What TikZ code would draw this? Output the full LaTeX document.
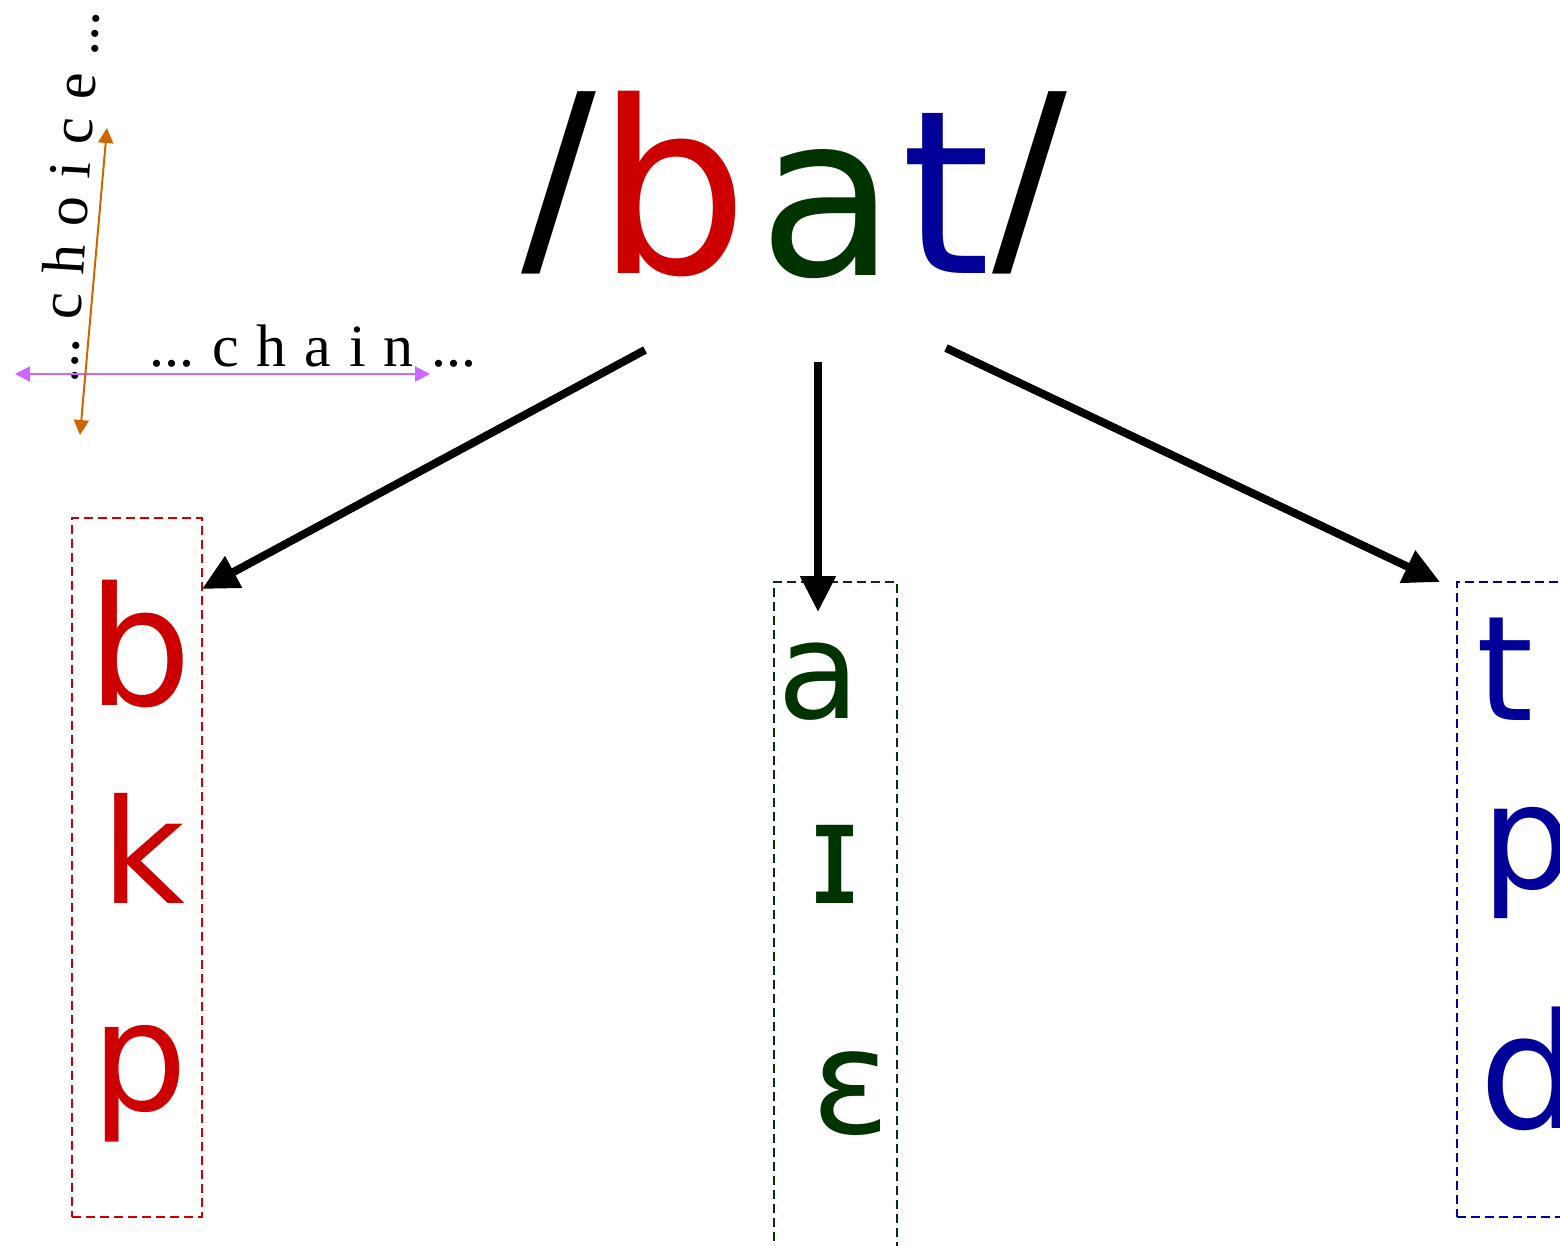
\documentclass[tikz,border=0pt]{standalone}
\usepackage{fontspec}
\setmainfont{Liberation Serif}
\newfontfamily\glyphfont{DejaVu Sans}
\usetikzlibrary{arrows.meta}
\definecolor{cred}{HTML}{CC0000}
\definecolor{cgreen}{HTML}{003300}
\definecolor{cblue}{HTML}{000099}
\definecolor{cpurple}{HTML}{CC66FF}
\definecolor{corange}{HTML}{CC6600}
\newcommand{\gsize}[1]{\glyphfont\fontsize{#1}{#1}\selectfont}
\newcommand{\lsp}{\kern18pt}
\begin{document}
\begin{tikzpicture}[x=1pt,y=-1pt,
  glyph/.style={inner sep=0pt, outer sep=0pt, anchor=base},
  bigarrow/.style={line width=8pt, -{Triangle[length=36pt,width=34pt]}},
  thinarrow/.style={line width=2pt, {Triangle[length=15pt,width=15pt]}-{Triangle[length=15pt,width=15pt]}},
  optbox/.style={draw, line width=1.6pt, dash pattern=on 9pt off 5pt, inner sep=0pt, outer sep=0pt},
  label/.style={inner sep=0pt, outer sep=0pt, anchor=base west, font=\fontsize{60}{60}\selectfont}
]
\useasboundingbox (0,0) rectangle (1560,1245);
\clip (0,0) rectangle (1560,1245);

% title
\node[glyph] (sl1) at (559,253) {\gsize{222}/};
\node[glyph, text=cred] (tb) at (672.5,273) {\gsize{240}b};
\node[glyph, text=cgreen] (ta) at (827.5,275) {\gsize{225}a};
\node[glyph, text=cblue] (tt) at (946.5,273) {\gsize{228}t};
\node[glyph] (sl2) at (1030,253) {\gsize{222}/};

% boxes
\node[optbox, cred, minimum width=130pt, minimum height=699pt] (redbox) at (137,867.5) {};
\node[optbox, cgreen, minimum width=123pt, minimum height=700pt] (greenbox) at (835.5,932) {};
\node[optbox, cblue, minimum width=160pt, minimum height=635pt] (bluebox) at (1537,899.5) {};

% red column
\node[glyph, text=cred] (rb) at (139.5,705) {\gsize{165}b};
\node[glyph, text=cred] (rk) at (143,903) {\gsize{145}k};
\node[glyph, text=cred] (rp) at (140,1110) {\gsize{152}p};

% green column
\node[glyph, text=cgreen] (ga) at (818.5,718) {\gsize{135}a};
\node[glyph, text=cgreen] (gi) at (835,903) {\gsize{143}ɪ};
\node[glyph, text=cgreen] (ge) at (851,1133) {\gsize{146}ɛ};

% blue column
\node[glyph, text=cblue] (bt) at (1505,720) {\gsize{146}t};
\node[glyph, text=cblue] (bp) at (1527,888) {\gsize{145}p};
\node[glyph, text=cblue] (bd) at (1530,1128) {\gsize{160}d};

% arrows from title
\coordinate (tailL) at (645,350);
\coordinate (tipL) at (202,589);
\coordinate (tailM) at (818,362);
\coordinate (tipM) at (818,612);
\coordinate (tailR) at (946,348);
\coordinate (tipR) at (1440,582);
\draw[bigarrow] (tailL) -- (tipL);
\draw[bigarrow] (tailM) -- (tipM);
\draw[bigarrow] (tailR) -- (tipR);

% chain / choice axes
\node[label] (chain) at (149,366) {...\lsp c\lsp h\lsp a\lsp i\lsp n\lsp ...};
\node[label, rotate=86.5] (choice) at (77,383) {...\lsp c\lsp h\lsp o\lsp i\lsp c\lsp e\lsp ...};
\coordinate (chainA) at (15,374);
\coordinate (chainB) at (430,374);
\coordinate (choiceA) at (80,435);
\coordinate (choiceB) at (107,128);
\draw[thinarrow, cpurple] (chainA) -- (chainB);
\draw[thinarrow, corange] (choiceA) -- (choiceB);
\end{tikzpicture}
\end{document}
